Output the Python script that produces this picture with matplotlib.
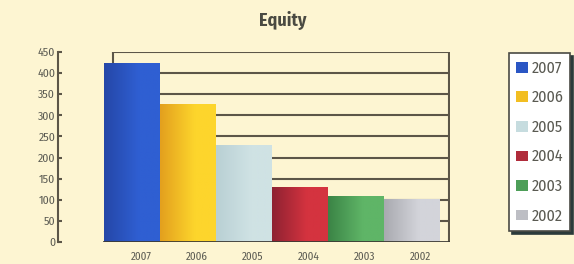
import numpy as np
import matplotlib.pyplot as plt
from matplotlib.colors import to_rgb
from matplotlib.patches import Rectangle

years = ['2007', '2006', '2005', '2004', '2003', '2002']
equity = [425, 328, 230, 130, 109, 101]
# left (darker) and right (lighter) shade of each bar
shade_left = ['#2547a8', '#e3a01e', '#b9d0d4', '#8e2232', '#3b8446', '#a9aab0']
shade_right = ['#2f5fd2', '#fdd52c', '#cfe2e4', '#d4333f', '#5fb567', '#d3d4da']
legend_colors = ['#2a56c4', '#f2be22', '#c6dcdf', '#b02c3b', '#4d9e58', '#bdbec4']
yticks = [0, 50, 100, 150, 200, 250, 300, 350, 400, 450]

bg = '#fdf5d2'
line_col = '#5c5648'
text_col = '#5a5a52'
font = ['Fira Sans Condensed', 'DejaVu Sans']

fig = plt.figure(figsize=(5.74, 2.64), dpi=100, facecolor=bg)
ax = fig.add_axes([58 / 574, 22 / 264, 392 / 574, 190 / 264])
ax.set_facecolor(bg)

depth = 0.16  # back wall shift, in bar widths
x = np.arange(len(years))

# back wall with grid lines
for v in yticks[1:]:
    ax.plot([-0.5 + depth, 5.68], [v, v], color=line_col, lw=1.5, zorder=1)
ax.plot([-0.5 + depth, -0.5 + depth], [0, 450], color=line_col, lw=1.5, zorder=1)
ax.plot([5.66, 5.66], [0, 450], color=line_col, lw=1.5, zorder=1)
ax.plot([-0.5, 5.68], [0, 0], color='#3c3a34', lw=2, zorder=4)

bars = ax.bar(x, equity, width=1.0, color='none', edgecolor='none', zorder=3)
for b, cl, cr in zip(bars, shade_left, shade_right):
    c0 = np.array(to_rgb(cl))
    c1 = np.array(to_rgb(cr))
    t = np.clip(np.linspace(0, 1, 64) * 1.6, 0, 1)
    grad = (c0[None, :] * (1 - t[:, None]) + c1[None, :] * t[:, None])[None, :, :]
    im = ax.imshow(grad, extent=[b.get_x(), b.get_x() + b.get_width(), 0, b.get_height()],
                   aspect='auto', zorder=3, interpolation='bilinear')
    im.set_clip_path(b)
ax.set_xlim(-1.32, 5.68)
ax.set_ylim(0, 450)

for s in ['top', 'right', 'bottom']:
    ax.spines[s].set_visible(False)
ax.spines['left'].set_color(line_col)
ax.spines['left'].set_linewidth(1.5)

ax.set_yticks(yticks)
ax.set_yticklabels([str(v) for v in yticks], family=font, fontsize=8.5, color=text_col)
ax.tick_params(axis='y', direction='in', length=3, width=1.5, color=line_col, pad=2)
ax.set_xticks(x + depth)
ax.set_xticklabels(years, family=font, fontsize=8, color=text_col)
ax.tick_params(axis='x', length=0, pad=7)

fig.text(283 / 574, 1 - 20 / 264, 'Equity', family=font, fontsize=13, fontweight='bold',
         color='#4a4a42', ha='center', va='center')

handles = [Rectangle((0, 0), 1, 1, facecolor=c, edgecolor='none') for c in legend_colors]
leg = fig.legend(handles, years, loc='upper left', bbox_to_anchor=(509 / 574, 1 - 53 / 264),
                 borderaxespad=0, frameon=True, fancybox=False, shadow={'color': '#2b3a3a', 'alpha': 1},
                 prop={'family': font, 'size': 11.5}, labelspacing=0.85, handlelength=0.75,
                 handleheight=0.65, handletextpad=0.2, borderpad=0.45)
leg.get_frame().set_edgecolor('#4a4a44')
leg.get_frame().set_linewidth(1.2)
for t in leg.get_texts():
    t.set_color(text_col)

fig.savefig('out.png', dpi=100, facecolor=bg)
